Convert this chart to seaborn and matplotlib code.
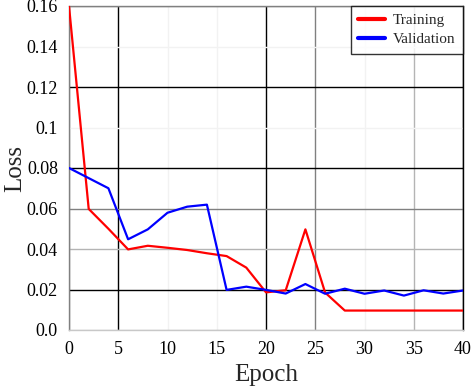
import matplotlib
matplotlib.use("Agg")
import matplotlib.pyplot as plt
import seaborn as sns
import pandas as pd

epochs = [0, 2, 4, 6, 8, 10, 12, 14, 16, 18, 20, 22, 24, 26, 28, 30, 32, 34, 36, 38, 40]
training = [0.16, 0.0598, 0.050, 0.0398, 0.0416, 0.0406, 0.0395, 0.0379, 0.0365, 0.0308,
            0.0186, 0.0196, 0.0497, 0.0185, 0.0096, 0.0096, 0.0096, 0.0096, 0.0096, 0.0096, 0.0096]
validation = [0.080, 0.075, 0.070, 0.0448, 0.0497, 0.0579, 0.0609, 0.0619, 0.0198, 0.0214,
              0.0198, 0.0180, 0.0227, 0.0179, 0.0204, 0.0179, 0.0195, 0.0170, 0.0196, 0.0180, 0.0195]
x_ticks = [0, 5, 10, 15, 20, 25, 30, 35, 40]
y_ticks = [0.0, 0.02, 0.04, 0.06, 0.08, 0.1, 0.12, 0.14, 0.16]
y_tick_labels = ["0.0", "0.02", "0.04", "0.06", "0.08", "0.1", "0.12", "0.14", "0.16"]

df = pd.DataFrame({
    "Epoch": epochs * 2,
    "Loss": training + validation,
    "Series": ["Training"] * len(epochs) + ["Validation"] * len(epochs),
})

sns.set_theme(style="white")
plt.rcParams["font.family"] = ["Liberation Serif", "DejaVu Serif"]

fig = plt.figure(figsize=(4.74, 3.88), dpi=100)
ax = fig.add_axes([69 / 474, 1 - 330 / 388, (463 - 69) / 474, (330 - 6) / 388])

sns.lineplot(data=df, x="Epoch", y="Loss", hue="Series",
             palette={"Training": "#ff0000", "Validation": "#0000ff"},
             linewidth=1.6, ax=ax, zorder=3)

ax.set_xlim(0, 40)
ax.set_ylim(0, 0.16)
ax.set_xticks(x_ticks)
ax.set_yticks(y_ticks)
ax.set_yticklabels(y_tick_labels)
ax.tick_params(axis="both", labelsize=13, length=0, colors="black")
ax.tick_params(axis="y", pad=8)
ax.tick_params(axis="x", pad=8)

ax.grid(True, linewidth=1.0)
xgrid_colors = ["#808080", "#000000", "#f2f2f2", "#f2f2f2", "#000000", "#808080", "#f2f2f2", "#b4b4b4", "#000000"]
ygrid_colors = ["#c8c8c8", "#000000", "#b4b4b4", "#808080", "#000000", "#f2f2f2", "#000000", "#f2f2f2", "#808080"]
for line, c in zip(ax.xaxis.get_gridlines(), xgrid_colors):
    line.set_color(c)
for line, c in zip(ax.yaxis.get_gridlines(), ygrid_colors):
    line.set_color(c)
ax.set_axisbelow(True)

for side, c in [("left", "#808080"), ("bottom", "#c8c8c8"), ("top", "#808080"), ("right", "#000000")]:
    ax.spines[side].set_color(c)
    ax.spines[side].set_linewidth(1.0)

ax.set_xlabel("Epoch", fontsize=18)
ax.set_ylabel("Loss", fontsize=18)
ax.xaxis.set_label_coords(0.5, -0.105)
ax.yaxis.set_label_coords(-0.108, 0.5)

leg = ax.legend(loc="upper right", fontsize=11, frameon=True, fancybox=False,
                borderaxespad=0.0, handlelength=1.75, handletextpad=0.5,
                borderpad=0.5, labelspacing=0.35, title=None)
leg.get_frame().set_edgecolor("black")
leg.get_frame().set_linewidth(1.0)
for h in leg.get_lines():
    h.set_linewidth(3.0)

fig.savefig("out.png", dpi=100)
